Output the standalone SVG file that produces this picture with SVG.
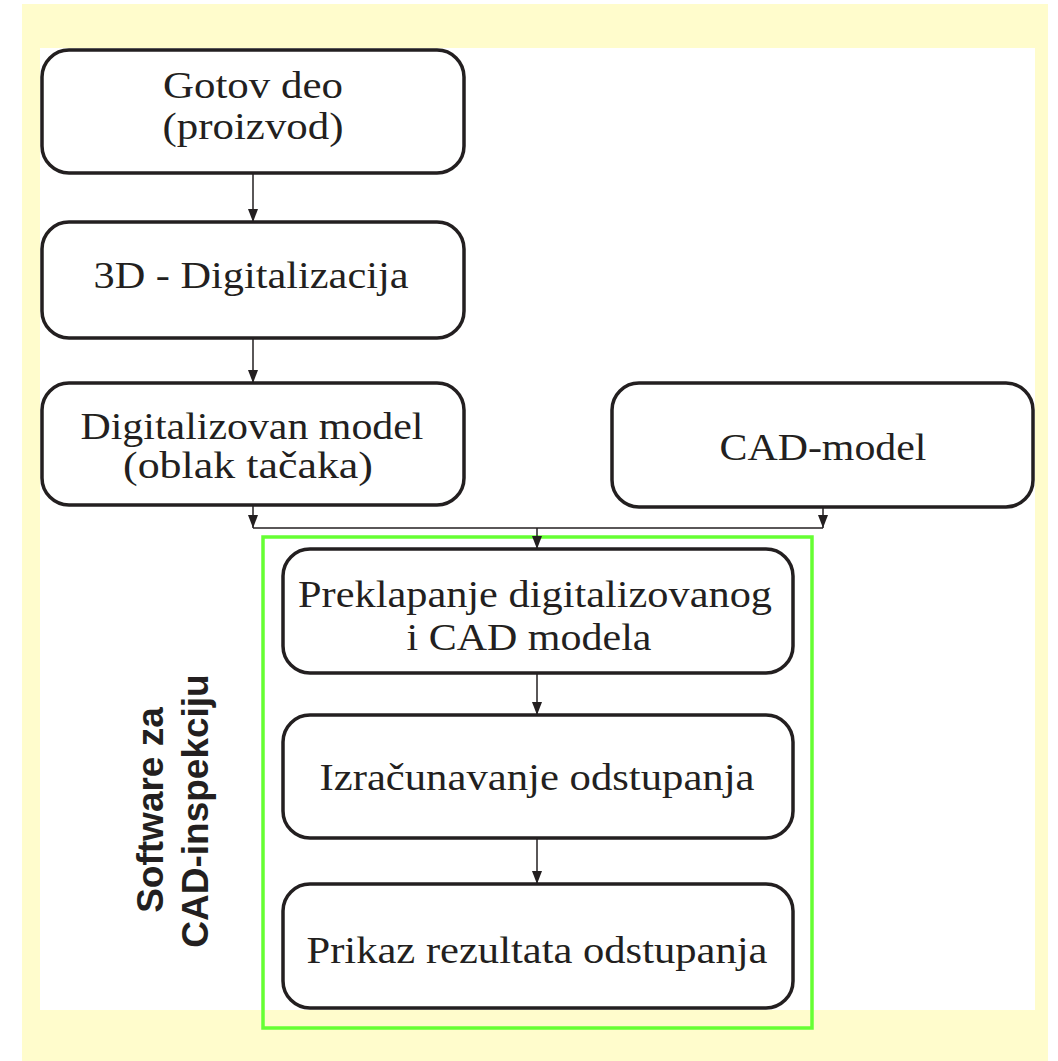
<svg xmlns="http://www.w3.org/2000/svg" width="1058" height="1061" viewBox="0 0 1058 1061">
<defs>
<style>
.box{fill:#fff;stroke:#231f20;stroke-width:3.5}
.t{font-family:"Liberation Serif","Times New Roman",serif;font-size:37px;fill:#231f20;text-anchor:middle}
.c{fill:none;stroke:#231f20;stroke-width:1.5}
.ah{fill:#231f20}
.side{font-family:"Liberation Sans",Arial,sans-serif;font-weight:bold;font-size:37px;fill:#231f20;text-anchor:middle}
</style>
</defs>
<rect x="0" y="0" width="1058" height="1061" fill="#fff"/>
<rect x="22" y="4" width="1026" height="1057" fill="#fffccc"/>
<rect x="40" y="48" width="995" height="962" fill="#fff"/>
<rect id="software-group" x="263" y="537" width="549" height="491" fill="none" stroke="#66ff33" stroke-width="3.5"/>
<g id="connectors">
<line class="c" x1="253" y1="173" x2="253" y2="222"/>
<line class="c" x1="253" y1="338" x2="253" y2="383"/>
<line class="c" x1="253" y1="505" x2="253" y2="528"/>
<line class="c" x1="823" y1="507" x2="823" y2="528"/>
<line class="c" x1="253" y1="528" x2="823" y2="528"/>
<line class="c" x1="537" y1="528" x2="537" y2="549"/>
<line class="c" x1="537" y1="673" x2="537" y2="715"/>
<line class="c" x1="537" y1="838" x2="537" y2="884"/>
<path class="ah" d="M248,209 L258,209 L253,222 Z"/>
<path class="ah" d="M248,370 L258,370 L253,383 Z"/>
<path class="ah" d="M248,515 L258,515 L253,528 Z"/>
<path class="ah" d="M818,515 L828,515 L823,528 Z"/>
<path class="ah" d="M532,536 L542,536 L537,549 Z"/>
<path class="ah" d="M532,702 L542,702 L537,715 Z"/>
<path class="ah" d="M532,871 L542,871 L537,884 Z"/>
</g>
<g id="n1"><rect class="box" x="42" y="50" width="422" height="123" rx="27"/>
<text class="t" x="253" y="98" textLength="180" lengthAdjust="spacingAndGlyphs">Gotov deo</text>
<text class="t" x="253" y="139" textLength="181" lengthAdjust="spacingAndGlyphs">(proizvod)</text></g>
<g id="n2"><rect class="box" x="42" y="222" width="422" height="116" rx="27"/>
<text class="t" x="251" y="288" textLength="315" lengthAdjust="spacingAndGlyphs">3D - Digitalizacija</text></g>
<g id="n3"><rect class="box" x="42" y="383" width="422" height="122" rx="27"/>
<text class="t" x="252" y="439" textLength="343" lengthAdjust="spacingAndGlyphs">Digitalizovan model</text>
<text class="t" x="248" y="478" textLength="250" lengthAdjust="spacingAndGlyphs">(oblak tačaka)</text></g>
<g id="n4"><rect class="box" x="612" y="383" width="421" height="124" rx="27"/>
<text class="t" x="823" y="460" textLength="207" lengthAdjust="spacingAndGlyphs">CAD-model</text></g>
<g id="n5"><rect class="box" x="283" y="549" width="510" height="124" rx="27"/>
<text class="t" x="535" y="607" textLength="474" lengthAdjust="spacingAndGlyphs">Preklapanje digitalizovanog</text>
<text class="t" x="529" y="650" textLength="245" lengthAdjust="spacingAndGlyphs">i CAD modela</text></g>
<g id="n6"><rect class="box" x="283" y="715" width="510" height="123" rx="27"/>
<text class="t" x="537" y="790" textLength="435" lengthAdjust="spacingAndGlyphs">Izračunavanje odstupanja</text></g>
<g id="n7"><rect class="box" x="283" y="884" width="510" height="124" rx="27"/>
<text class="t" x="537" y="963" textLength="461" lengthAdjust="spacingAndGlyphs">Prikaz rezultata odstupanja</text></g>
<g id="label">
<text class="side" transform="translate(163,810) rotate(-90)">Software za</text>
<text class="side" transform="translate(208,811) rotate(-90)">CAD-inspekciju</text>
</g>
</svg>
